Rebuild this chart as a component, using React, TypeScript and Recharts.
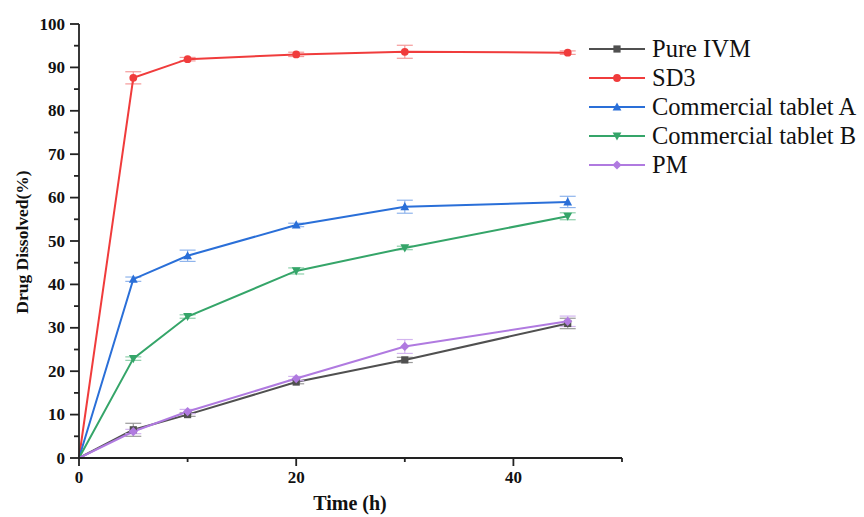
import React from 'react';
import { LineChart, Line, XAxis, YAxis, ErrorBar } from 'recharts';

const time = [0, 5, 10, 20, 30, 45];
const pureIVM = [0, 6.5, 10.0, 17.5, 22.6, 31.0];
const pureIVMErr = [0, 1.5, 0.4, 0.4, 0.6, 1.2];
const sd3 = [0, 87.6, 91.9, 93.0, 93.6, 93.4];
const sd3Err = [0, 1.4, 0.4, 0.5, 1.5, 0.4];
const tabletA = [0, 41.2, 46.6, 53.7, 57.9, 59.0];
const tabletAErr = [0, 0.5, 1.3, 0.4, 1.5, 1.3];
const tabletB = [0, 22.9, 32.6, 43.1, 48.4, 55.7];
const tabletBErr = [0, 0.4, 0.4, 0.7, 0.4, 0.8];
const pm = [0, 6.1, 10.7, 18.3, 25.7, 31.5];
const pmErr = [0, 0.5, 0.5, 0.5, 1.6, 1.2];

const seriesKeys = ['pure', 'sd3', 'a', 'b', 'pm'];
const seriesNames = ['Pure IVM', 'SD3', 'Commercial tablet A', 'Commercial tablet B', 'PM'];
const seriesColors = ['#505050', '#f03c3c', '#2a6fd8', '#35a569', '#b07ae0'];
const errColors = ['#9a9a9a', '#f59a9a', '#8fb4ec', '#8ed0ab', '#d3b5ef'];
const shapes = ['square', 'circle', 'triangle', 'invtriangle', 'diamond'];

const xTicks = [0, 10, 20, 30, 40, 50];
const xLabeled = [0, 20, 40];
const yTicks = [0, 5, 10, 15, 20, 25, 30, 35, 40, 45, 50, 55, 60, 65, 70, 75, 80, 85, 90, 95, 100];
const yLabeled = [0, 10, 20, 30, 40, 50, 60, 70, 80, 90, 100];

const seriesValues = [pureIVM, sd3, tabletA, tabletB, pm];
const seriesErrs = [pureIVMErr, sd3Err, tabletAErr, tabletBErr, pmErr];

const data = time.map((t, i) => {
  const row: any = { t };
  seriesKeys.forEach((k, s) => {
    row[k] = seriesValues[s][i];
    row[k + 'Err'] = seriesErrs[s][i];
  });
  return row;
});

const FONT = '"Liberation Serif", "Times New Roman", serif';
const AXIS = '#222';

function shapeEl(shape: string, cx: number, cy: number, color: string, key?: any) {
  const s = 3.6;
  switch (shape) {
    case 'square':
      return <rect key={key} x={cx - s} y={cy - s} width={2 * s} height={2 * s} fill={color} />;
    case 'circle':
      return <circle key={key} cx={cx} cy={cy} r={s + 0.3} fill={color} />;
    case 'triangle':
      return <path key={key} d={`M${cx},${cy - s - 1} L${cx + s + 0.8},${cy + s} L${cx - s - 0.8},${cy + s} Z`} fill={color} />;
    case 'invtriangle':
      return <path key={key} d={`M${cx},${cy + s + 1} L${cx + s + 0.8},${cy - s} L${cx - s - 0.8},${cy - s} Z`} fill={color} />;
    default:
      return <path key={key} d={`M${cx},${cy - s - 1} L${cx + s + 1},${cy} L${cx},${cy + s + 1} L${cx - s - 1},${cy} Z`} fill={color} />;
  }
}

function makeDot(shape: string, color: string) {
  return (props: any) => {
    const { cx, cy, index } = props;
    if (cx == null || cy == null || index === 0) return <g key={`d${index}`} />;
    return shapeEl(shape, cx, cy, color, `d${index}`);
  };
}

const XTick = (props: any) => {
  const { x, y, payload } = props;
  const v = payload.value;
  const major = xLabeled.includes(v);
  return (
    <g>
      <line x1={x} y1={y} x2={x} y2={y + (major ? 8 : 4)} stroke={AXIS} strokeWidth={1.8} />
      {major && (
        <text x={x} y={y + 25} textAnchor="middle" fontFamily={FONT} fontWeight="bold" fontSize={17} fill="#111">
          {v}
        </text>
      )}
    </g>
  );
};

const YTick = (props: any) => {
  const { x, y, payload } = props;
  const v = payload.value;
  const major = yLabeled.includes(v);
  return (
    <g>
      <line x1={x} y1={y} x2={x - (major ? 9 : 5)} y2={y} stroke={AXIS} strokeWidth={1.8} />
      {major && (
        <text x={x - 14} y={y + 5.5} textAnchor="end" fontFamily={FONT} fontWeight="bold" fontSize={17} fill="#111">
          {v}
        </text>
      )}
    </g>
  );
};

export default function App() {
  return (
    <div style={{ position: 'absolute', left: 0, top: 0, width: 864, height: 517, background: '#fff', overflow: 'hidden' }}>
      <LineChart
        width={864}
        height={517}
        data={data}
        margin={{ top: 24, right: 242, bottom: 29, left: 19 }}
      >
        <XAxis
          dataKey="t"
          type="number"
          domain={[0, 50]}
          ticks={xTicks}
          interval={0}
          height={30}
          tickSize={0}
          tickMargin={0}
          tickLine={false}
          axisLine={{ stroke: AXIS, strokeWidth: 1.8 }}
          tick={<XTick />}
          label={{
            content: () => (
              <text x={350} y={510} textAnchor="middle" fontFamily={FONT} fontWeight="bold" fontSize={20} fill="#111">
                Time (h)
              </text>
            ),
          }}
        />
        <YAxis
          type="number"
          domain={[0, 100]}
          ticks={yTicks}
          interval={0}
          width={60}
          tickSize={0}
          tickMargin={0}
          tickLine={false}
          axisLine={{ stroke: AXIS, strokeWidth: 1.8 }}
          tick={<YTick />}
          label={{
            content: () => (
              <text
                x={28}
                y={242}
                transform="rotate(-90 28 242)"
                textAnchor="middle"
                fontFamily={FONT}
                fontWeight="bold"
                fontSize={17.5}
                fill="#111"
              >
                Drug Dissolved(%)
              </text>
            ),
          }}
        />
        {seriesKeys.map((k, s) => (
          <Line
            key={k}
            type="linear"
            dataKey={k}
            name={seriesNames[s]}
            stroke={seriesColors[s]}
            strokeWidth={2}
            dot={makeDot(shapes[s], seriesColors[s])}
            activeDot={false}
            isAnimationActive={false}
          >
            <ErrorBar dataKey={k + 'Err'} width={8} stroke={errColors[s]} strokeWidth={1.2} />
          </Line>
        ))}
      </LineChart>
      <svg width={864} height={517} style={{ position: 'absolute', left: 0, top: 0, pointerEvents: 'none' }}>
        {seriesNames.map((n, i) => {
          const y = 49 + 29 * i;
          return (
            <g key={n}>
              <line x1={589} y1={y} x2={645} y2={y} stroke={seriesColors[i]} strokeWidth={2} />
              {shapeEl(shapes[i], 617, y, seriesColors[i])}
              <text x={652} y={y + 8} fontFamily={FONT} fontSize={24.5} fill="#111">
                {n}
              </text>
            </g>
          );
        })}
      </svg>
    </div>
  );
}
